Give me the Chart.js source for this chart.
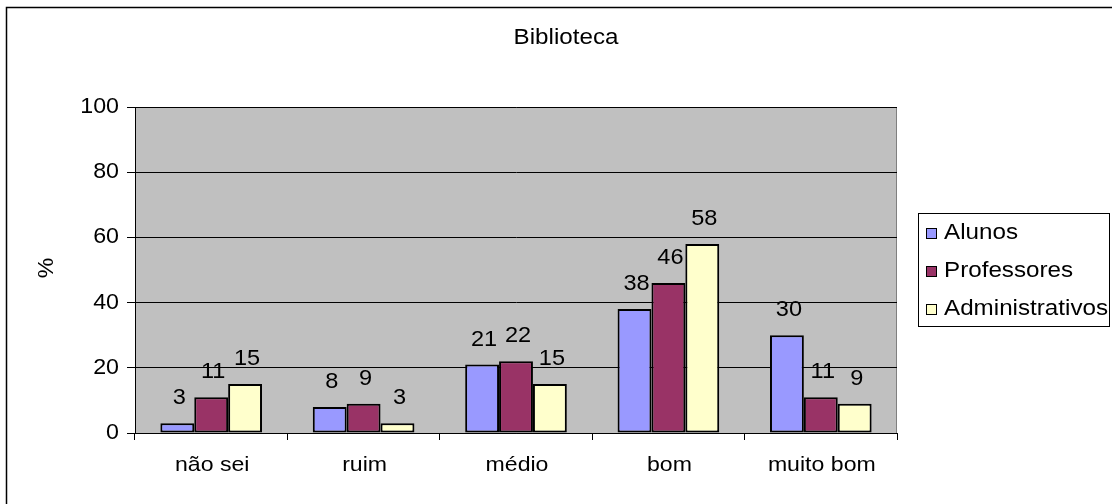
<!DOCTYPE html>
<html>
<head>
<meta charset="utf-8">
<title>Biblioteca</title>
<script src="https://cdn.jsdelivr.net/npm/chart.js@4/dist/chart.umd.min.js"></script>
<style>
  html, body { margin: 0; padding: 0; background: #fff; }
  #wrap { width: 1112px; height: 504px; position: relative; }
</style>
</head>
<body>
<div id="wrap"><canvas id="biblioteca-chart" width="1112" height="504"></canvas></div>
<script>
// Rating categories and percentage per group
const categories = ['não sei', 'ruim', 'médio', 'bom', 'muito bom'];
const alunos = [3, 8, 21, 38, 30];
const professores = [11, 9, 22, 46, 11];
const administrativos = [15, 3, 15, 58, 9];
const yTicks = [0, 20, 40, 60, 80, 100];

const FONT = '"Liberation Sans", Arial, sans-serif';

// text is drawn slightly widened, like the old Excel export
function wideText(ctx, text, x, y, size, align, sx = 1.08) {
  ctx.save();
  ctx.translate(x, y);
  ctx.scale(sx, 1);
  ctx.font = size + 'px ' + FONT;
  ctx.fillStyle = '#000';
  ctx.textAlign = align;
  ctx.textBaseline = 'middle';
  ctx.fillText(text, 0, 0);
  ctx.restore();
}

// Gray plot background, outer frame and the chart title
const framePlugin = {
  id: 'frame',
  beforeDraw(chart) {
    const { ctx, chartArea: a } = chart;
    ctx.save();
    ctx.fillStyle = '#fff';
    ctx.fillRect(0, 0, chart.width, chart.height);
    ctx.fillStyle = '#C0C0C0';
    ctx.fillRect(a.left, a.top, a.right - a.left, a.bottom - a.top);
    ctx.strokeStyle = '#808080';
    ctx.lineWidth = 1;
    ctx.strokeRect(a.left + 0.5, a.top + 0.5, a.right - a.left - 1, a.bottom - a.top);
    // outer frame (bottom/right run past the page)
    ctx.strokeStyle = '#000';
    ctx.lineWidth = 1.5;
    ctx.strokeRect(6.5, 7.5, chart.width + 20, chart.height + 20);
    ctx.restore();
    wideText(ctx, 'Biblioteca', 566, 38, 22, 'center', 1.1);
  },
  afterDraw(chart) {
    const { ctx, scales } = chart;
    // axis labels
    scales.y.ticks.forEach((t, i) => {
      wideText(ctx, String(t.value), 119, scales.y.getPixelForTick(i), 21.5, 'right');
    });
    chart.data.labels.forEach((lab, i) => {
      wideText(ctx, lab, scales.x.getPixelForTick(i) + 1, 465, 21, 'center', 1.1);
    });
    ctx.save();
    ctx.translate(47, 268);
    ctx.rotate(-Math.PI / 2);
    wideText(ctx, '%', 0, 0, 22, 'center', 1.05);
    ctx.restore();

    // value labels above every bar
    chart.data.datasets.forEach((ds, i) => {
      chart.getDatasetMeta(i).data.forEach((bar, j) => {
        wideText(ctx, String(ds.data[j]), bar.x + 2, bar.y - 25, 22, 'center', 1.07);
      });
    });

    // legend box
    ctx.save();
    const lx = 918, ly = 213, lw = 194, lh = 113;
    ctx.fillStyle = '#fff';
    ctx.fillRect(lx, ly, lw, lh);
    ctx.strokeStyle = '#000';
    ctx.lineWidth = 1;
    ctx.strokeRect(lx + 0.5, ly + 0.5, lw - 3, lh);
    chart.data.datasets.forEach((ds, i) => {
      const cy = 233 + i * 38;
      ctx.fillStyle = ds.backgroundColor;
      ctx.fillRect(926, cy - 5, 10, 10);
      ctx.strokeStyle = '#000';
      ctx.lineWidth = 1;
      ctx.strokeRect(926.5, cy - 4.5, 10, 10);
      wideText(ctx, ds.label, 944, cy, 22, 'left', 1.1);
    });
    ctx.restore();
  }
};

const barStyle = { borderColor: '#000', borderWidth: 2, borderSkipped: false,
  categoryPercentage: 0.667, barPercentage: 1 };

new Chart(document.getElementById('biblioteca-chart'), {
  type: 'bar',
  data: {
    labels: categories,
    datasets: [
      { label: 'Alunos', data: alunos, backgroundColor: '#9999FF', ...barStyle },
      { label: 'Professores', data: professores, backgroundColor: '#993366', ...barStyle },
      { label: 'Administrativos', data: administrativos, backgroundColor: '#FFFFCC', ...barStyle }
    ]
  },
  options: {
    responsive: false,
    animation: false,
    events: [],
    layout: { padding: { top: 107, right: 215, bottom: 0, left: 0 } },
    plugins: {
      legend: { display: false },
      title: { display: false },
      tooltip: { enabled: false }
    },
    scales: {
      x: {
        offset: true,
        afterFit(scale) { scale.height = 71; },
        grid: { offset: true, drawOnChartArea: false, drawTicks: true, tickLength: 7,
          color: '#000', lineWidth: 1 },
        border: { display: true, color: '#000', width: 1 },
        ticks: { display: false, autoSkip: false }
      },
      y: {
        min: 0,
        max: 100,
        afterFit(scale) { scale.width = 135; },
        afterBuildTicks(scale) { scale.ticks = yTicks.map(v => ({ value: v })); },
        grid: { color: '#000', lineWidth: 1, drawTicks: true, tickLength: 8 },
        border: { display: true, color: '#000', width: 1 },
        ticks: { display: false }
      }
    }
  },
  plugins: [framePlugin]
});
</script>
</body>
</html>
